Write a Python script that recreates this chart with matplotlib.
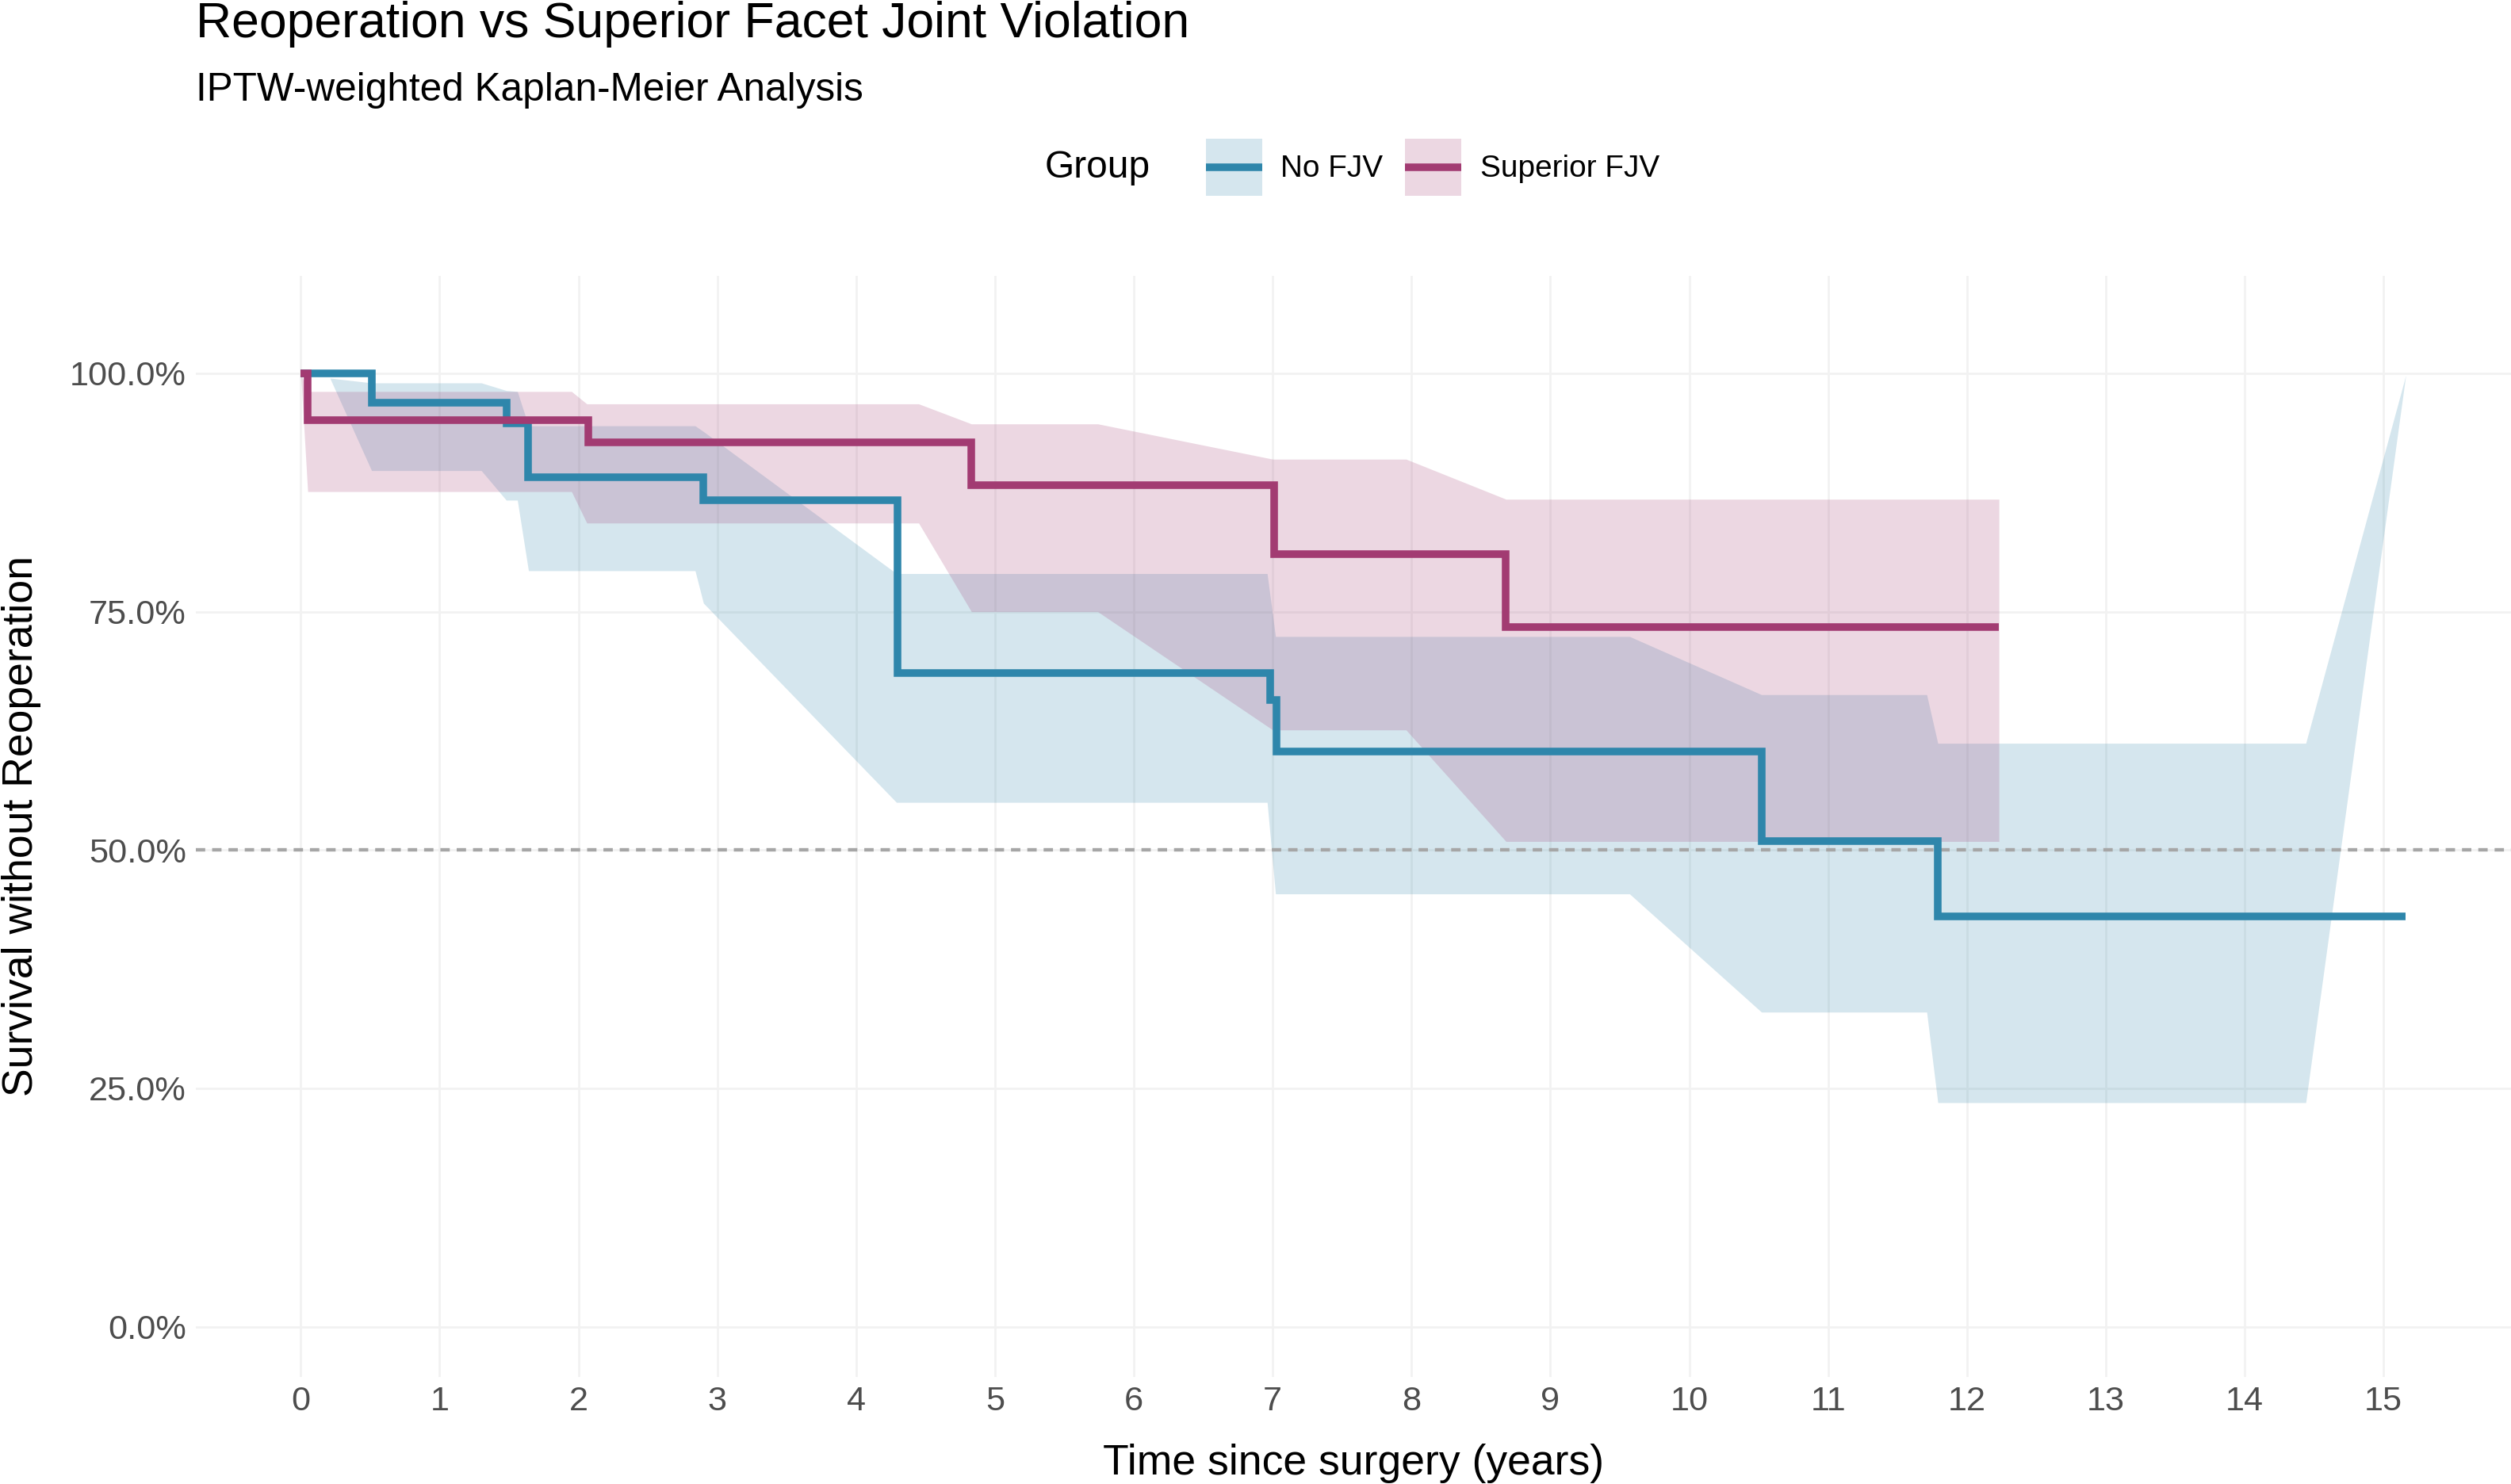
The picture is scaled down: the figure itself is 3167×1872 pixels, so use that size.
import numpy as np
import matplotlib
matplotlib.use("Agg")
import matplotlib.pyplot as plt
from matplotlib.patches import Patch
from matplotlib.lines import Line2D
from matplotlib.legend_handler import HandlerLine2D

plt.rcParams['font.family'] = ['Liberation Sans', 'DejaVu Sans']

# Kaplan-Meier step curves (time in years, survival in %)
nofjv_t = [0, 0.51, 1.485, 1.634, 2.90, 4.30, 6.98, 7.03, 10.52, 11.79, 15.16]
nofjv_s = [100, 96.95, 94.8, 89.1, 86.7, 68.6, 65.7, 60.3, 50.9, 43.0, 43.0]
sup_t = [0, 0.05, 2.07, 4.83, 7.01, 8.68, 12.23]
sup_s = [100, 95.1, 92.8, 88.3, 81.0, 73.4, 73.4]

# confidence bands (vertices of the ribbons)
nofjv_ci_t = [0.21, 0.51, 1.30, 1.48, 1.56, 1.64, 2.84, 2.90, 4.29, 6.96, 7.02,
              9.57, 10.52, 11.71, 11.79, 14.44, 15.16]
nofjv_lo = [99.5, 89.8, 89.8, 86.7, 86.7, 79.3, 79.3, 75.9, 55.0, 55.0, 45.4,
            45.4, 33.0, 33.0, 23.5, 23.5, 99.8]
nofjv_hi = [99.5, 99.0, 99.0, 98.2, 98.1, 94.5, 94.5, 93.9, 79.0, 79.0, 72.4,
            72.4, 66.3, 66.3, 61.2, 61.2, 99.8]
sup_ci_t = [0.0, 0.05, 1.95, 2.06, 4.45, 4.83, 5.74, 7.00, 7.96, 8.68, 12.23]
sup_lo = [100, 87.6, 87.6, 84.3, 84.3, 75.0, 75.0, 62.6, 62.6, 50.9, 50.9]
sup_hi = [100, 98.1, 98.1, 96.8, 96.8, 94.7, 94.7, 91.0, 91.0, 86.8, 86.8]

groups = ["No FJV", "Superior FJV"]
colors = ["#2E86AB", "#A23B72"]
x_ticks = list(range(0, 16))
y_ticks = [0, 25, 50, 75, 100]
y_labels = ["0.0%", "25.0%", "50.0%", "75.0%", "100.0%"]


class CenteredLine(HandlerLine2D):
    # put the key line in the middle of the key box
    def create_artists(self, legend, orig_handle, xdescent, ydescent,
                       width, height, fontsize, trans):
        arts = super().create_artists(legend, orig_handle, xdescent, ydescent,
                                      width, height, fontsize, trans)
        for a in arts:
            a.set_ydata(np.full(len(a.get_xdata()), height / 2 - ydescent))
        return arts


W, H = 3167, 1872
fig = plt.figure(figsize=(W / 300, H / 300), dpi=300)
ax = fig.add_axes([246.6 / W, 1 - 1736.7 / H, (W - 246.6) / W, (1736.7 - 347.7) / H])

ax.fill_between(nofjv_ci_t, nofjv_lo, nofjv_hi, color=colors[0], alpha=0.2, lw=0)
ax.fill_between(sup_ci_t, sup_lo, sup_hi, color=colors[1], alpha=0.2, lw=0)
ax.axhline(50, color="#A6A6A6", lw=1.05, linestyle=(0, (2.7, 2.0)), zorder=1.5)
ax.step(nofjv_t, nofjv_s, where="post", color=colors[0], lw=2.3, zorder=3,
        solid_capstyle="butt", solid_joinstyle="miter")
ax.step(sup_t, sup_s, where="post", color=colors[1], lw=2.3, zorder=3,
        solid_capstyle="butt", solid_joinstyle="miter")

ax.set_xlim(-0.758, 15.918)
ax.set_ylim(-5.25, 110.25)
ax.set_xticks(x_ticks)
ax.set_yticks(y_ticks)
ax.set_yticklabels(y_labels)
ax.tick_params(length=0, pad=2.8, labelsize=10.4, labelcolor="#4D4D4D")
ax.grid(True, color="#F2F2F2", lw=0.65)
ax.set_axisbelow(True)
for s in ax.spines.values():
    s.set_visible(False)

ax.set_xlabel("Time since surgery (years)", fontsize=12.85, va="baseline")
ax.xaxis.set_label_coords(0.5, ((1 - 1860 / H) - (1 - 1736.7 / H)) / ((1736.7 - 347.7) / H))
ax.set_ylabel("Survival without Reoperation", fontsize=12.85, va="baseline")
ax.yaxis.set_label_coords((40.7 / W - 246.6 / W) / ((W - 246.6) / W), 0.5)

fig.text(246.6 / W, 1 - 46.7 / H, "Reoperation vs Superior Facet Joint Violation",
         fontsize=15, va="baseline", ha="left")
fig.text(246.6 / W, 1 - 126.7 / H, "IPTW-weighted Kaplan-Meier Analysis",
         fontsize=11.9, va="baseline", ha="left")

fig.text(1318 / W, 1 - 223.7 / H, "Group", fontsize=11.5, va="baseline", ha="left")
handles = [(Patch(facecolor=c, alpha=0.2, edgecolor="none"),
            Line2D([], [], color=c, lw=2.3, solid_capstyle="butt")) for c in colors]
fig.legend(handles, groups, loc="center left", bbox_to_anchor=(1521.2 / W, 1 - 211 / H),
           ncol=2, frameon=False, fontsize=9.3, handlelength=1.83, handleheight=2.48,
           handletextpad=0.6, columnspacing=0.72, borderpad=0, borderaxespad=0,
           handler_map={Line2D: CenteredLine()})

fig.savefig("out.png", dpi=300)
